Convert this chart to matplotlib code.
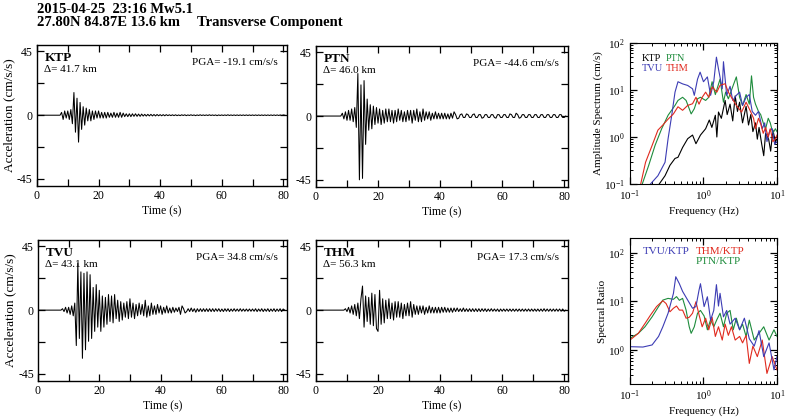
import numpy as np
import matplotlib
matplotlib.use('Agg')
import matplotlib.pyplot as plt
from matplotlib.ticker import MultipleLocator, FixedLocator, NullFormatter

plt.rcParams['font.family'] = ['Liberation Serif', 'DejaVu Serif']
plt.rcParams['mathtext.fontset'] = 'stix'
plt.rcParams['axes.unicode_minus'] = False

# acelerogramas, muestreo de 0.5 s desde t = 0
dt = 0.5
ktp = [0, 0, 0, 0, 0, 0, 0, 0, 0, 0,
       0, 0, 0, 0, 0, 0, 2, -3, 3, -2,
       3, -3, 4, -6, 16, -12, 12, -19, 9, -10,
       6, -7, 5, -4, 4, -4, 3, -3, 3, -2,
       3, -2, 2, -2, 2, -2, 2, -1.5, 1.5, -1.5,
       2, -1.5, 1.5, -1.5, 2, -1.5, 1.5, -1, 1, -1,
       1, -1, 1, -0.8, 1, -0.8, 0.8, -0.8, 0.8, -0.6,
       0.6, -0.6, 0.6, -0.5, 0.6, -0.5, 0.5, -0.5, 0.5, -0.4,
       0.4, -0.4, 0.4, -0.4, 0.4, -0.3, 0.3, -0.3, 0.3, -0.3,
       0.3, -0.3, 0.2, -0.3, 0.3, -0.2, 0.3, -0.3, 0.2, -0.2,
       0.3, -0.2, 0.2, -0.3, 0.2, -0.2, 0.3, -0.2, 0.2, -0.2,
       0.2, -0.2, 0.3, -0.2, 0.2, -0.2, 0.2, -0.3, 0.2, -0.2,
       0.2, -0.2, 0.2, -0.2, 0.3, -0.2, 0.2, -0.2, 0.2, -0.2,
       0.2, -0.2, 0.2, -0.2, 0.2, -0.2, 0.2, -0.2, 0.2, -0.2,
       0.2, -0.2, 0.2, -0.2, 0.2, -0.2, 0.2, -0.2, 0.2, -0.2,
       0.2, -0.2, 0.2, -0.2, 0.2, -0.2, 0.2, -0.2, 0.2, -0.2,
       0.2, 0]
ptn = [0, 0, 0, 0, 0, 0, 0, 0, 0, 0,
       0, 0, 0, 0, 0, 0, 0, 2, -2, 3,
       -3, 4, -3, 5, -4, 6, -8, 30, -45, 22,
       -44, 25, -20, 12, -10, 8, -9, 7, -6, 6,
       -5, 5, -6, 4, -5, 5, -4, 5, -4, 4,
       -5, 4, -4, 5, -3, 4, -4, 3, -4, 4,
       -3, 4, -5, 4, -3, 5, -4, 3, -4, 5,
       -3, 3, -2, 3, -3, 2, -2, 3, -2, 2,
       -2, 2, -2, 2, -2, 1.5, -2, 2, -1.5, 3,
       1, -2, -1.5, 1, 1.5, -1, -1, 1.5, 1, -1,
       -1, 1, 1.5, -1, -1, 1, 1, -1.5, -1, 1,
       1, -1, -1, 1, 1, -1, -1.5, 1, 1, -1,
       -1, 1, 1, -1, -1, 1.5, 1, -1, -1, 2,
       1, -1.5, -1, 1, 1, -1, -1, 1, 1, -1,
       -1, 1, 1, -1, -1, 1, 1, -1, -1, 1,
       1, -1, -1, 1, 1, -1, -1, 1, 1, -1,
       -1, 0]
tvu = [0, 0, 0, 0, 0, 0, 0, 0, 0, 0,
       0, 0, 0, 0, 0, 0, 1, -1, 2, -2,
       2, -3, 3, -4, 5, -25, 33, -20, 27, -34,
       26, -28, 27, -22, 25, -20, 16, -15, 18, -12,
       14, -15, 10, -12, 9, -10, 11, -8, 10, -9,
       11, -6, 7, -8, 6, -7, 5, -5, 6, -6,
       8, -5, 5, -6, 4, -4, 5, -3, 4, -4,
       7, -5, 3, -4, 5, -3, 3, -3, 4, -2,
       3, -3, 2, -2, 3, -2, 1.5, -2, 2, -1.5,
       1.5, -1, 2, -3, 3, 1, -2, -1, 1, -1,
       1.5, -1, 1, -1.5, 1, -1, 1, -1, 1, -1,
       1, -1, 1, -1, 1, -1, 1, -0.8, 1, -1,
       0.8, -1, 1, -0.8, 1, -1, 0.8, -0.8, 1, -0.8,
       0.8, -0.8, 1, -0.8, 0.8, -0.8, 0.8, -0.8, 0.8, -0.8,
       0.8, -0.8, 1, -1, 0.8, -0.8, 1, -1, 0.8, -0.8,
       1, -1, 0.8, -0.8, 1, -1, 0.8, -0.8, 1, -1,
       0.8, 0]
thm = [0, 0, 0, 0, 0, 0, 0, 0, 0, 0,
       0, 0, 0, 0, 0, 0, 0, 0, 0, 1,
       -1, 2, -2, 3, -3, 4, -4, 5, -6, 8,
       17, -12, 10, -8, 9, -10, 12, -11, 11, -13,
       -15, 14, -10, 8, -9, 7, -6, 8, -6, 5,
       -7, 6, -5, 6, -5, 5, -6, 4, -4, 5,
       -4, 6, -5, 4, -3, 3, -3, 3, -2, 3,
       -3, 2, -2, 3, -2, 2, -2, 2, -2, 2,
       -2, 2, -1.5, 2, -1.5, 1.5, -1.5, 1.5, -1.5, 1.5,
       -1, 1.5, -1, 1, -1, 1.5, -1, 1, -1, 1,
       -1, 1, -1, 1, -1, 1, -1, 1, -0.8, 1,
       -1, 0.8, -0.8, 1, -0.8, 0.8, -0.8, 0.8, -1, 0.8,
       -0.8, 0.8, -0.8, 0.8, -0.8, 0.8, -0.8, 0.8, -0.8, 0.8,
       -0.8, 0.8, -0.8, 0.8, -0.8, 0.8, -0.8, 0.8, -0.8, 0.8,
       -0.8, 0.8, -0.8, 0.8, -0.8, 0.8, -0.8, 1, -0.8, 0.8,
       -0.8, 0.8, -0.8, 0.8, -0.8, 0.8, -0.8, 0.8, -0.8, 0.8,
       -0.8, 0]

estaciones = ['KTP', 'PTN', 'TVU', 'THM']
distancias = ['41.7', '46.0', '43.1', '56.3']
pgas = ['-19.1', '-44.6', '34.8', '17.3']

# espectros de amplitud (Hz, cm/s)
f_ktp = [0.25, 0.3, 0.35, 0.41, 0.45, 0.52, 0.61, 0.71, 0.79, 0.91, 1.07, 1.2, 1.3, 1.45,
         1.52, 1.6, 1.75, 1.97, 2.1, 2.3, 2.5, 2.7, 2.9, 3.1, 3.4, 3.8, 4.1, 4.4, 4.7, 5.1,
         5.4, 5.7, 6.2, 6.6, 7.0, 7.7, 8.2, 8.8, 9.5, 10.0]
a_ktp = [0.1, 0.15, 0.25, 0.35, 0.37, 0.6, 0.92, 1.1, 0.72, 1.1, 1.5, 2.3, 1.6, 2.9,
         1.0, 3.4, 2.5, 6.0, 3.0, 5.0, 2.2, 7.5, 3.5, 5.5, 2.0, 4.5, 1.8, 3.0, 1.3, 2.0,
         0.9, 1.6, 0.7, 0.4, 1.2, 0.9, 0.5, 1.4, 0.8, 0.9]
f_ptn = [0.147, 0.18, 0.22, 0.27, 0.33, 0.41, 0.45, 0.52, 0.58, 0.68, 0.75, 0.83, 0.91,
         1.07, 1.18, 1.31, 1.45, 1.68, 1.87, 2.0, 2.18, 2.54, 2.8, 3.1, 3.4, 3.8, 4.2, 4.5,
         4.8, 5.1, 5.6, 6.0, 6.5, 7.0, 7.6, 8.1, 8.8, 9.5, 10.0]
a_ptn = [0.1, 0.25, 0.67, 1.5, 2.9, 4.7, 6.0, 7.0, 6.0, 3.1, 4.0, 6.5, 7.0,
         6.0, 7.0, 15, 8.0, 17, 5.5, 9.0, 6.5, 12.6, 19, 7.0, 4.7, 8.0, 5.0, 20,
         7.0, 5.0, 3.5, 3.0, 2.0, 1.5, 2.5, 2.0, 1.2, 1.5, 1.3]
f_tvu = [0.19, 0.24, 0.30, 0.33, 0.37, 0.41, 0.45, 0.52, 0.61, 0.71, 0.75, 0.83, 0.9,
         1.0, 1.13, 1.25, 1.38, 1.5, 1.6, 1.8, 1.87, 2.07, 2.3, 2.5, 2.8, 3.1, 3.4, 3.8,
         4.2, 4.6, 5.1, 5.6, 6.3, 6.8, 7.3, 8.0, 8.6, 9.3, 10.0]
a_tvu = [0.1, 0.15, 0.29, 0.92, 2.9, 9.0, 15, 13.5, 12.5, 10.6, 7.7, 17, 24,
         15, 19, 7.7, 15, 50, 28, 10.6, 40, 7.7, 12, 6.0, 7.7, 9.0, 4.7, 7.0,
         8.0, 3.5, 2.9, 3.5, 1.5, 2.0, 0.8, 1.4, 1.5, 0.7, 0.8]
f_thm = [0.14, 0.163, 0.2, 0.24, 0.28, 0.33, 0.39, 0.45, 0.52, 0.61, 0.71, 0.79, 0.87,
         0.96, 1.07, 1.18, 1.31, 1.52, 1.68, 1.97, 2.18, 2.54, 2.8, 3.3, 3.8, 4.4, 4.8,
         5.1, 5.6, 6.0, 6.5, 7.0, 7.6, 8.1, 8.8, 9.5, 10.0]
a_thm = [0.1, 0.29, 0.66, 1.4, 1.8, 2.4, 3.1, 4.4, 3.7, 4.7, 5.1, 7.0, 5.0,
         7.0, 9.0, 7.0, 11.6, 9.0, 12.6, 13.6, 9.0, 6.0, 4.7, 3.4, 5.5, 3.4, 2.5,
         1.5, 2.5, 1.9, 1.2, 1.6, 1.0, 1.5, 0.8, 0.9, 1.1]

# cocientes espectrales respecto a KTP
f_r_tvu = [0.1, 0.15, 0.2, 0.245, 0.28, 0.33, 0.39, 0.42, 0.47, 0.52, 0.61, 0.71, 0.79,
           0.87, 0.91, 1.02, 1.13, 1.25, 1.38, 1.5, 1.6, 1.68, 1.87, 2.07, 2.3, 2.7, 3.1,
           3.6, 4.2, 4.9, 5.7, 6.6, 7.8, 9.1, 10.0]
r_tvu = [1.17, 1.15, 1.27, 1.9, 3.0, 5.7, 14.5, 32, 23, 16, 10.6, 7.2, 7.8,
         17, 23, 7.8, 12.4, 4.1, 6.5, 22, 8.0, 14.6, 4.8, 6.5, 3.4, 4.5, 2.6,
         4.5, 1.7, 1.2, 2.5, 0.73, 1.4, 0.39, 0.73]
f_r_ptn = [0.1, 0.13, 0.16, 0.2, 0.245, 0.28, 0.33, 0.39, 0.43, 0.47, 0.52, 0.58, 0.64,
           0.68, 0.75, 0.83, 0.91, 1.02, 1.13, 1.25, 1.38, 1.52, 1.68, 1.87, 2.07, 2.3,
           2.54, 2.8, 3.1, 3.4, 3.8, 4.2, 4.9, 5.7, 6.6, 7.8, 9.1, 10.0]
r_ptn = [1.74, 2.2, 3.0, 4.8, 7.8, 10.6, 11.5, 11, 12.5, 10.5, 11.5, 6.6, 3.0,
         2.2, 3.0, 5.7, 6.5, 5.0, 2.6, 4.2, 3.0, 4.2, 5.7, 3.0, 5.7, 6.5,
         2.6, 4.5, 2.6, 3.4, 1.9, 4.1, 1.6, 2.2, 3.0, 1.6, 2.6, 1.9]
f_r_thm = [0.1, 0.13, 0.16, 0.19, 0.23, 0.28, 0.31, 0.35, 0.39, 0.43, 0.47, 0.52, 0.58,
           0.64, 0.71, 0.79, 0.87, 0.96, 1.07, 1.18, 1.31, 1.45, 1.6, 1.8, 1.97, 2.18,
           2.4, 2.7, 3.1, 3.4, 3.8, 4.2, 4.7, 5.4, 6.3, 7.3, 8.6, 10.0]
r_thm = [1.6, 2.2, 3.5, 5.2, 7.8, 10.3, 9.0, 6.1, 7.2, 8.0, 6.6, 6.6, 4.5,
         4.7, 5.7, 9.8, 5.3, 3.0, 4.5, 2.6, 4.7, 1.9, 3.0, 1.6, 3.4, 2.0,
         3.0, 1.6, 1.9, 1.4, 2.0, 0.53, 1.2, 0.73, 1.6, 0.33, 0.73, 0.39]

azul = '#3c3cb4'
verde = '#1e8c3c'
rojo = '#e02a1e'

fig = plt.figure(figsize=(7.85, 4.2), dpi=100)

pos_ondas = [[0.0471, 0.557, 0.3185, 0.3357],
             [0.4025, 0.555, 0.321, 0.3357],
             [0.0484, 0.0929, 0.317, 0.3357],
             [0.4025, 0.0929, 0.321, 0.3357]]
datos = [ktp, ptn, tvu, thm]

for i in range(4):
    ax = fig.add_axes(pos_ondas[i])
    acc = np.array(datos[i])
    t = np.arange(len(acc)) * dt
    ax.plot(t, acc, color='black', lw=0.75)
    ax.set_xlim(0, 81.2)
    ax.set_ylim(-50, 49.5)
    ax.xaxis.set_major_locator(MultipleLocator(20))
    ax.xaxis.set_minor_locator(MultipleLocator(10))
    ax.yaxis.set_major_locator(FixedLocator([-45, 0, 45]))
    ax.yaxis.set_minor_locator(FixedLocator([-22.5, 22.5]))
    ax.tick_params(which='both', direction='in', top=True, right=True,
                   length=5, width=0.9, labelsize=8.5, pad=3)
    for s in ax.spines.values():
        s.set_linewidth(1.0)
    ax.set_xlabel('Time (s)', fontsize=8.5, labelpad=2)
    if i in (0, 2):
        ax.set_ylabel('Acceleration (cm/s/s)', fontsize=9.5, labelpad=1)
    ax.text(0.032, 0.887, estaciones[i], transform=ax.transAxes,
            fontsize=9.5, fontweight='bold', va='baseline')
    ax.text(0.028, 0.81, '\u0394= ' + distancias[i] + ' km', transform=ax.transAxes,
            fontsize=8, va='baseline')
    ax.text(0.964, 0.858, 'PGA= ' + pgas[i] + ' cm/s/s', transform=ax.transAxes,
            fontsize=8, va='baseline', ha='right')

# espectro de amplitud
ax = fig.add_axes([0.8025, 0.5619, 0.1873, 0.3357])
ax.plot(f_ktp, a_ktp, color='black', lw=0.8)
ax.plot(f_ptn, a_ptn, color=verde, lw=0.8)
ax.plot(f_tvu, a_tvu, color=azul, lw=0.8)
ax.plot(f_thm, a_thm, color=rojo, lw=0.8)
ax.set_xscale('log')
ax.set_yscale('log')
ax.set_xlim(0.1, 10)
ax.set_ylim(0.1, 100)
ax.tick_params(which='major', direction='in', top=True, right=True, length=5,
               width=0.9, labelsize=8)
ax.tick_params(which='minor', direction='in', top=True, right=True, length=2.5,
               width=0.7)
ax.xaxis.set_minor_formatter(NullFormatter())
ax.set_xlabel('Frequency (Hz)', fontsize=8, labelpad=2)
ax.set_ylabel('Amplitude Spectrum (cm/s)', fontsize=8, labelpad=1)
ax.text(0.08, 0.87, 'KTP', color='black', fontsize=7.5, transform=ax.transAxes)
ax.text(0.245, 0.87, 'PTN', color=verde, fontsize=7.5, transform=ax.transAxes)
ax.text(0.08, 0.80, 'TVU', color=azul, fontsize=7.5, transform=ax.transAxes)
ax.text(0.245, 0.80, 'THM', color=rojo, fontsize=7.5, transform=ax.transAxes)

# cociente espectral
ax = fig.add_axes([0.8025, 0.0857, 0.1873, 0.3476])
ax.plot(f_r_ptn, r_ptn, color=verde, lw=0.8)
ax.plot(f_r_thm, r_thm, color=rojo, lw=0.8)
ax.plot(f_r_tvu, r_tvu, color=azul, lw=0.8)
ax.set_xscale('log')
ax.set_yscale('log')
ax.set_xlim(0.1, 10)
ax.set_ylim(0.2, 200)
ax.tick_params(which='major', direction='in', top=True, right=True, length=5,
               width=0.9, labelsize=8)
ax.tick_params(which='minor', direction='in', top=True, right=True, length=2.5,
               width=0.7)
ax.xaxis.set_minor_formatter(NullFormatter())
ax.yaxis.set_minor_formatter(NullFormatter())
ax.set_xlabel('Frequency (Hz)', fontsize=8, labelpad=2)
ax.set_ylabel('Spectral Ratio', fontsize=8, labelpad=1)
ax.text(0.09, 0.89, 'TVU/KTP', color=azul, fontsize=8, transform=ax.transAxes)
ax.text(0.45, 0.89, 'THM/KTP', color=rojo, fontsize=8, transform=ax.transAxes)
ax.text(0.45, 0.82, 'PTN/KTP', color=verde, fontsize=8, transform=ax.transAxes)

fig.text(0.047, 0.968, '2015-04-25  23:16 Mw5.1', fontsize=10.5, fontweight='bold',
         va='baseline')
fig.text(0.047, 0.937, '27.80N 84.87E 13.6 km', fontsize=10.5, fontweight='bold',
         va='baseline')
fig.text(0.251, 0.937, 'Transverse Component', fontsize=10.5, fontweight='bold',
         va='baseline')

fig.savefig('out.png', dpi=100)
